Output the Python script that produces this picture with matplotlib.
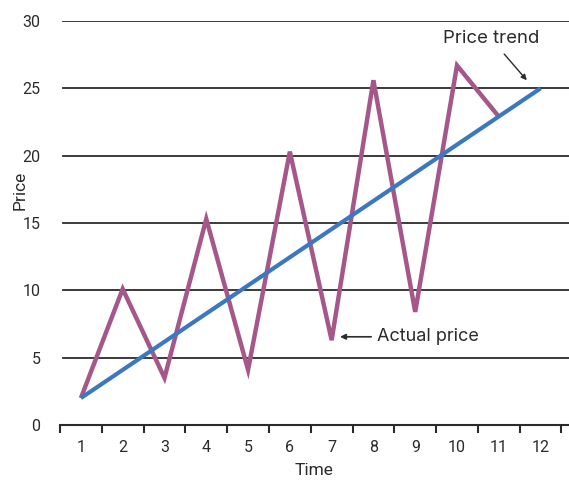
import matplotlib
matplotlib.use("Agg")
import matplotlib.pyplot as plt
from matplotlib import font_manager
import numpy as np

# --- data ---
time = [1, 2, 3, 4, 5, 6, 7, 8, 9, 10, 11]
actual_price = [2, 10.1, 3.5, 15.3, 4.1, 20.3, 6.3, 25.6, 8.4, 26.7, 22.9]
trend_time = [1, 12]
trend_price = [2, 25]
x_labels = ["1", "2", "3", "4", "5", "6", "7", "8", "9", "10", "11", "12"]
y_ticks = [0, 5, 10, 15, 20, 25, 30]

installed = {f.name for f in font_manager.fontManager.ttflist}
tick_font = "Liberation Sans Narrow" if "Liberation Sans Narrow" in installed else "Roboto"
note_font = "Inter" if "Inter" in installed else "DejaVu Sans"

PURPLE = "#a6578a"
BLUE = "#3b78c0"
INK = "#2b2b2b"

fig = plt.figure(figsize=(5.69, 4.80), dpi=100)
ax = fig.add_axes([60 / 569, 55 / 480, 509 / 569, 404 / 480])

x_lo, x_hi = 0.5, 12.68
ax.set_xlim(x_lo, x_hi)
ax.set_ylim(0, 30)

# horizontal grid lines
for y in y_ticks[1:]:
    ax.axhline(y, xmin=0.006, xmax=1, color=INK, lw=1.3, zorder=1)

ax.plot(trend_time, trend_price, color=BLUE, lw=3.0, zorder=3,
        solid_capstyle="butt")
ax.plot(time, actual_price, color=PURPLE, lw=3.2, zorder=2,
        solid_joinstyle="miter", solid_capstyle="butt")

for s in ["top", "right", "left"]:
    ax.spines[s].set_visible(False)
ax.spines["bottom"].set_color(INK)
ax.spines["bottom"].set_linewidth(1.5)

# x ticks sit between periods; labels centred on each period
boundaries = np.arange(0.5, len(x_labels) + 1, 1.0)
ax.set_xticks(boundaries)
ax.set_xticklabels([])
ax.tick_params(axis="x", which="major", length=6, width=1.5, color=INK)
ax.set_xticks(np.arange(1, len(x_labels) + 1), minor=True)
ax.set_xticklabels(x_labels, minor=True, fontsize=11.5, family=tick_font,
                   color=INK)
ax.tick_params(axis="x", which="minor", length=0, pad=11)

ax.set_yticks(y_ticks)
ax.set_yticklabels([str(v) for v in y_ticks], fontsize=11.5,
                   family=tick_font, color=INK)
ax.tick_params(axis="y", length=0, pad=14)

ax.set_xlabel("Time", fontsize=12.5, family=tick_font, color=INK)
ax.xaxis.set_label_coords(0.5, -0.095)
ax.set_ylabel("Price", fontsize=12.5, family=tick_font, color=INK)
ax.yaxis.set_label_coords(-0.064, 0.58)

ax.annotate("Actual price", xy=(7.2, 6.55), xytext=(8.08, 6.55),
            fontsize=13, family=note_font, color=INK, va="center",
            ha="left",
            arrowprops=dict(arrowstyle="-|>", color=INK, lw=1.2,
                            mutation_scale=8, shrinkA=2, shrinkB=0))
ax.annotate("Price trend", xy=(11.67, 25.6), xytext=(10.81, 28.7),
            fontsize=13.4, family=note_font, color=INK, va="center",
            ha="center",
            arrowprops=dict(arrowstyle="-|>", color=INK, lw=1.0,
                            mutation_scale=8, shrinkA=4, shrinkB=0))

fig.savefig("out.png", dpi=100)
